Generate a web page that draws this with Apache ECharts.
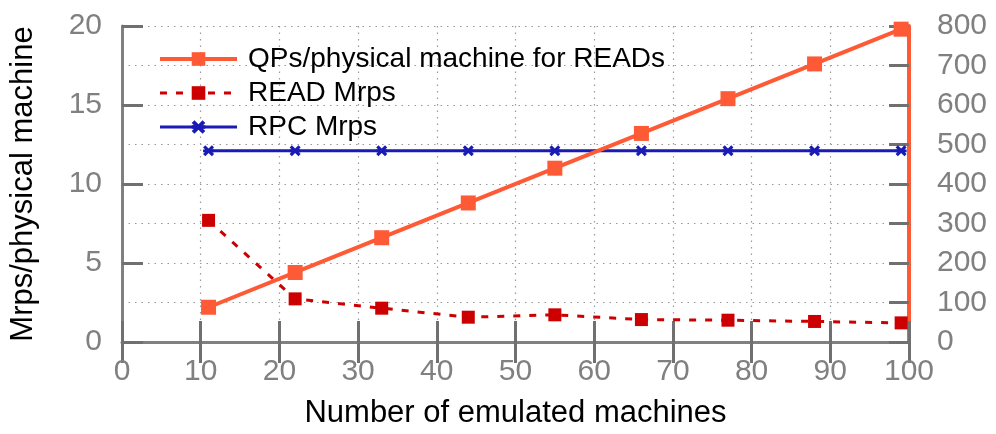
<!DOCTYPE html>
<html>
<head>
<meta charset="utf-8">
<script src="https://cdn.jsdelivr.net/npm/echarts@6/dist/echarts.min.js"></script>
<style>html,body{margin:0;padding:0;background:#fff}#c{width:996px;height:434px}</style>
</head>
<body>
<div id="c"></div>
<script>
var machines = [11, 22, 33, 44, 55, 66, 77, 88, 99];
var qpsPerMachine = [88, 176, 264, 352, 440, 528, 616, 704, 792];
var readMrps = [7.7, 2.73, 2.14, 1.57, 1.72, 1.42, 1.38, 1.30, 1.21];
var rpcMrps = [12.1, 12.1, 12.1, 12.1, 12.1, 12.1, 12.1, 12.1, 12.1];
var seriesNames = ['QPs/physical machine for READs', 'READ Mrps', 'RPC Mrps'];

function pairs(xs, ys) { return xs.map(function (x, i) { return [x, ys[i]]; }); }

var FONT = 'Liberation Sans';
var GRAY = '#808080';
var TICK = '#707070';
var ORANGE = '#FF5A36';
var RED = '#CC0000';
var BLUE = '#1A1AB4';
var starPath = 'path://M0,2 L2,0 L5,3 L8,0 L10,2 L7,5 L10,8 L8,10 L5,7 L2,10 L0,8 L3,5 Z M0,3.8 L10,3.8 L10,6.2 L0,6.2 Z';

var chart = echarts.init(document.getElementById('c'), null, {renderer: 'canvas'});
chart.setOption({
  animation: false,
  backgroundColor: '#fff',
  grid: {left: 120, right: 87, top: 26, bottom: 91.5, containLabel: false},
  legend: {
    orient: 'vertical',
    left: 153, top: 40,
    itemWidth: 77, itemHeight: 17, itemGap: 6,
    textStyle: {fontFamily: FONT, fontSize: 28, color: '#000', padding: [0, 0, 0, 6]},
    data: [
      {name: seriesNames[0], lineStyle: {width: 4}},
      {name: seriesNames[1], lineStyle: {width: 3}},
      {name: seriesNames[2], lineStyle: {width: 3}}
    ]
  },
  xAxis: [{
    type: 'value', min: 0, max: 100, interval: 10,
    name: 'Number of emulated machines', nameLocation: 'middle', nameGap: 56,
    nameTextStyle: {fontFamily: FONT, fontSize: 31, color: '#000'},
    axisLine: {show: true, onZero: false, lineStyle: {color: GRAY, width: 3}},
    axisTick: {show: true, inside: true, length: 21, lineStyle: {color: TICK, width: 3}},
    axisLabel: {fontFamily: FONT, fontSize: 30, color: GRAY, margin: 15},
    splitLine: {show: true, lineStyle: {color: '#999', width: 1.2, type: [1.5, 5]}}
  }, {
    type: 'value', min: 0, max: 100, interval: 10, position: 'top',
    axisLine: {show: false},
    axisTick: {show: true, inside: true, length: 21, lineStyle: {color: TICK, width: 3}},
    axisLabel: {show: false},
    splitLine: {show: false}
  }],
  yAxis: [{
    type: 'value', min: 0, max: 20, interval: 5, position: 'left',
    name: 'Mrps/physical machine', nameLocation: 'middle', nameGap: 83,
    nameTextStyle: {fontFamily: FONT, fontSize: 31, color: '#000'},
    axisLine: {show: true, onZero: false, lineStyle: {color: GRAY, width: 3}},
    axisTick: {show: true, inside: true, length: 21, lineStyle: {color: TICK, width: 3}},
    axisLabel: {fontFamily: FONT, fontSize: 30, color: GRAY, margin: 20},
    splitLine: {show: false}
  }, {
    type: 'value', min: 0, max: 800, interval: 100, position: 'right',
    axisLine: {show: true, onZero: false, lineStyle: {color: ORANGE, width: 4}},
    axisTick: {show: true, inside: true, length: 20, lineStyle: {color: TICK, width: 3}},
    axisLabel: {fontFamily: FONT, fontSize: 30, color: GRAY, margin: 28},
    splitLine: {show: true, lineStyle: {color: '#999', width: 1.2, type: [1.5, 5]}}
  }],
  series: [{
    name: seriesNames[0], type: 'line', xAxisIndex: 0, yAxisIndex: 1, z: 5,
    data: pairs(machines, qpsPerMachine),
    symbol: 'rect', symbolSize: 15,
    lineStyle: {color: ORANGE, width: 4},
    itemStyle: {color: ORANGE}
  }, {
    name: seriesNames[1], type: 'line', xAxisIndex: 0, yAxisIndex: 0, z: 4,
    data: pairs(machines, readMrps),
    symbol: 'rect', symbolSize: 13,
    lineStyle: {color: RED, width: 3, type: [7, 9]},
    itemStyle: {color: RED}
  }, {
    name: seriesNames[2], type: 'line', xAxisIndex: 0, yAxisIndex: 0, z: 3,
    data: pairs(machines, rpcMrps),
    symbol: starPath, symbolSize: 11,
    lineStyle: {color: BLUE, width: 3},
    itemStyle: {color: BLUE}
  }]
});
</script>
</body>
</html>
